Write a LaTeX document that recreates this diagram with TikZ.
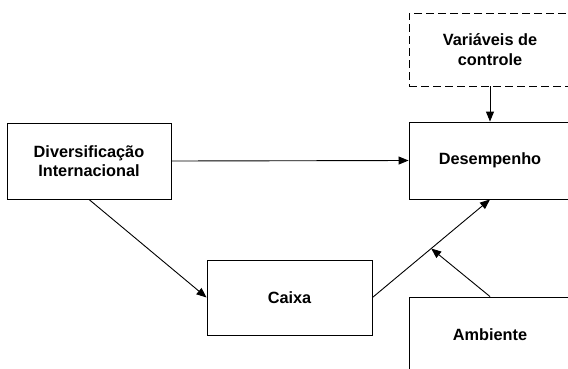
\documentclass[tikz,border=0pt]{standalone}
\usepackage{fontspec}
\setmainfont{Liberation Sans}
\usetikzlibrary{calc,arrows.meta}
\begin{document}
\begin{tikzpicture}[x=1pt,y=-1pt,
  box/.style={draw, line width=0.9pt, minimum width=164pt, minimum height=76pt, align=center, inner sep=0pt,
    font=\fontsize{16.3}{19.5}\selectfont\bfseries},
  conn/.style={line width=0.9pt, -{Triangle[length=10pt,width=8pt]}}]
\useasboundingbox (0,0) rectangle (568,368);
\clip (0,0) rectangle (568,368);
\fill[white] (0,0) rectangle (568,368);
\node[box, dashed, dash pattern=on 8pt off 4pt, minimum width=162pt, minimum height=73pt] (var) at (490,49.5) {Variáveis de\\controle};
\node[box, minimum width=162pt, minimum height=77pt] (des) at (490,160.5) {Desempenho};
\node[box] (div) at (89,161) {Diversificação\\Internacional};
\node[box, minimum width=165pt, minimum height=75pt] (cai) at (289.5,297.5) {Caixa};
\node[box, minimum width=162pt, minimum height=76pt] (amb) at (490,335) {Ambiente};
\coordinate (m) at ($(cai.east)!0.5!(des.south)$);
\draw[conn] (var) -- (des);
\draw[conn] (div.east) -- (des.west);
\draw[conn] (div.south) -- (cai.west);
\draw[conn] (cai.east) -- (des.south);
\draw[conn] (amb.north) -- (m);
\end{tikzpicture}
\end{document}
